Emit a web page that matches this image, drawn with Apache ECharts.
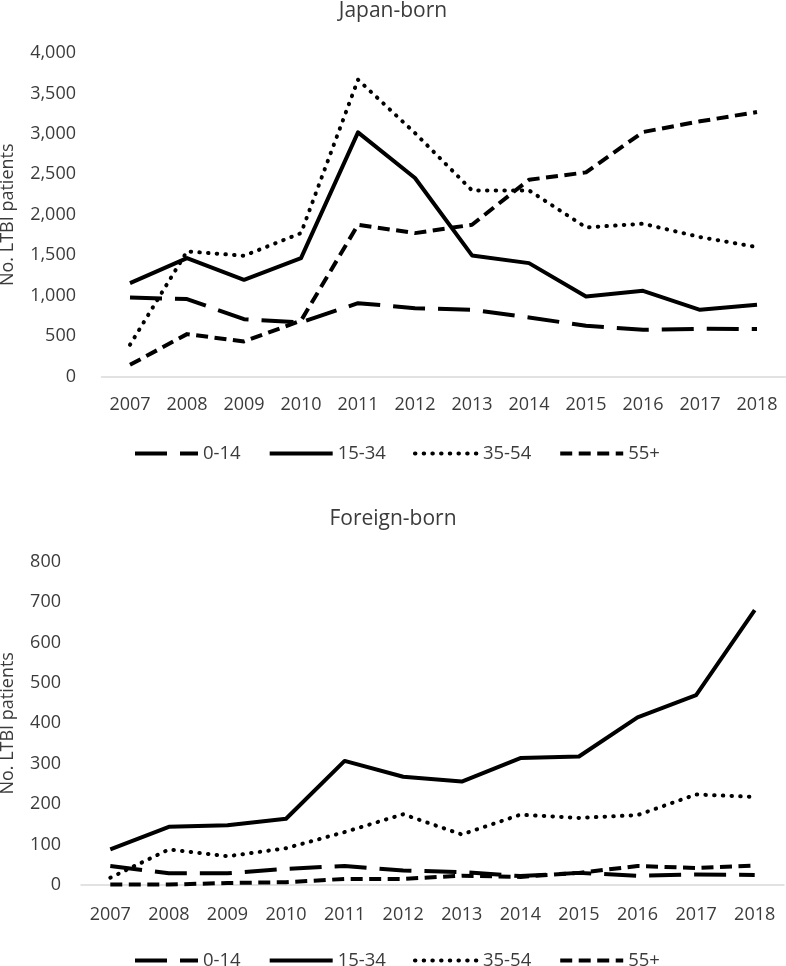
<!DOCTYPE html>
<html>
<head>
<meta charset="utf-8">
<script src="https://cdn.jsdelivr.net/npm/echarts@6/dist/echarts.min.js"></script>
<style>
html,body{margin:0;padding:0;background:#fff;}
#c{width:786px;height:966px;}
</style>
</head>
<body>
<div id="c"></div>
<script>
var years = ['2007','2008','2009','2010','2011','2012','2013','2014','2015','2016','2017','2018'];
var seriesNames = ['0-14','15-34','35-54','55+'];

// Japan-born
var jp_0_14  = [977, 957, 709, 668, 907, 845, 825, 730, 627, 577, 590, 586];
var jp_15_34 = [1155, 1464, 1196, 1464, 3019, 2454, 1497, 1402, 990, 1060, 825, 887];
var jp_35_54 = [392, 1547, 1493, 1773, 3670, 3010, 2301, 2301, 1843, 1889, 1724, 1600];
var jp_55p   = [144, 524, 433, 690, 1876, 1773, 1876, 2433, 2524, 3023, 3155, 3270];

// Foreign-born
var fb_0_14  = [47, 29, 29, 40, 47, 36, 32, 22, 30, 23, 26, 25];
var fb_15_34 = [88, 144, 148, 164, 307, 268, 256, 314, 318, 415, 470, 680];
var fb_35_54 = [18, 88, 71, 91, 131, 175, 125, 174, 166, 173, 224, 218];
var fb_55p   = [1, 1, 5, 7, 15, 15, 23, 20, 30, 47, 42, 48];

var FONT = '"Open Sans", "Noto Sans", sans-serif';
var TXT = '#3b3b3b';
var LW = 4;

var styles = {
  '0-14':  {type: [32, 13], cap: 'butt'},
  '15-34': {type: 'solid', cap: 'butt'},
  '35-54': {type: [0.5, 8.2], cap: 'round'},
  '55+':   {type: [12, 6.5], cap: 'butt'}
};

function mkSeries(name, data, idx) {
  return {
    name: name, type: 'line', data: data,
    xAxisIndex: idx, yAxisIndex: idx,
    symbol: 'none', showSymbol: false, smooth: false,
    lineStyle: {color: '#000', width: LW, type: styles[name].type, cap: styles[name].cap, join: 'round'},
    itemStyle: {color: '#000'},
    emphasis: {disabled: true}
  };
}

function xAx(idx, margin) {
  return {
    type: 'category', gridIndex: idx, data: years, boundaryGap: true,
    axisLine: {show: true, lineStyle: {color: '#d9d9d9', width: 1.5}},
    axisTick: {show: false},
    axisLabel: {color: TXT, fontFamily: FONT, fontSize: 18, margin: margin}
  };
}
function yAx(idx, max, interval, margin, nameGap) {
  return {
    type: 'value', gridIndex: idx, min: 0, max: max, interval: interval,
    name: 'No. LTBI patients', nameLocation: 'middle', nameGap: nameGap, nameRotate: 90,
    nameTextStyle: {color: TXT, fontFamily: FONT, fontSize: 18},
    axisLine: {show: false}, axisTick: {show: false}, splitLine: {show: false},
    axisLabel: {color: TXT, fontFamily: FONT, fontSize: 18, margin: margin,
      formatter: function (v) { return v.toString().replace(/\B(?=(\d{3})+(?!\d))/g, ','); }}
  };
}
function legend(top) {
  return {
    data: seriesNames, top: top, left: 133, orient: 'horizontal', padding: 0,
    itemWidth: 63, itemHeight: 14, itemGap: 27,
    textStyle: {color: TXT, fontFamily: FONT, fontSize: 18.5},
    lineStyle: {width: LW},
    itemStyle: {color: 'transparent', borderWidth: 0, opacity: 0},
    selectedMode: false
  };
}

var option = {
  animation: false,
  backgroundColor: '#fff',
  title: [
    {text: 'Japan-born', left: 'center', top: 1, padding: 0,
     textStyle: {color: TXT, fontFamily: FONT, fontSize: 21, fontWeight: 'normal'}},
    {text: 'Foreign-born', left: 'center', top: 509, padding: 0,
     textStyle: {color: TXT, fontFamily: FONT, fontSize: 21, fontWeight: 'normal'}}
  ],
  legend: [legend(444), legend(951)],
  grid: [
    {left: 101.5, right: 0.5, top: 53, height: 323.5, containLabel: false, outerBoundsMode: 'none'},
    {left: 81, right: 2, top: 561.7, height: 323.3, containLabel: false, outerBoundsMode: 'none'}
  ],
  xAxis: [xAx(0, 19), xAx(1, 21)],
  yAxis: [yAx(0, 4000, 500, 25.5, 85), yAx(1, 800, 100, 20, 64)],
  series: [
    mkSeries('0-14', jp_0_14, 0),
    mkSeries('15-34', jp_15_34, 0),
    mkSeries('35-54', jp_35_54, 0),
    mkSeries('55+', jp_55p, 0),
    mkSeries('0-14', fb_0_14, 1),
    mkSeries('15-34', fb_15_34, 1),
    mkSeries('35-54', fb_35_54, 1),
    mkSeries('55+', fb_55p, 1)
  ]
};

var chart = echarts.init(document.getElementById('c'), null, {renderer: 'canvas'});
chart.setOption(option);
</script>
</body>
</html>
